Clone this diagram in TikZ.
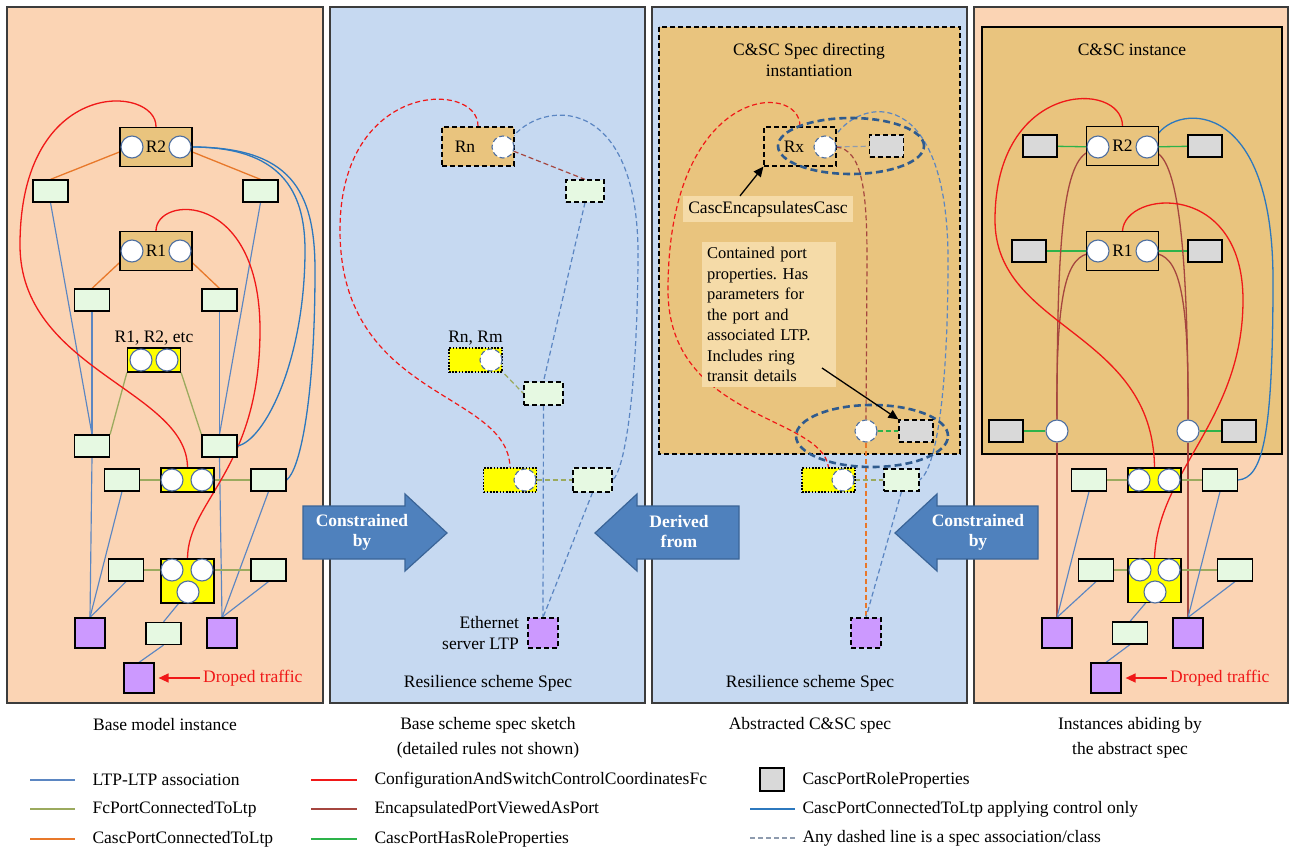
\documentclass[tikz,border=0pt]{standalone}
\usepackage{fontspec}
\setmainfont{Liberation Serif}
\usepackage{tikz}
\usetikzlibrary{shapes.geometric,arrows.meta,positioning,calc,backgrounds}
\frenchspacing
\definecolor{peach}{HTML}{FBD4B4}
\definecolor{skyblue}{HTML}{C6D9F1}
\definecolor{casctan}{HTML}{E9C47E}
\definecolor{ltpgreen}{HTML}{E6F9E2}
\definecolor{ltpviolet}{HTML}{CC99FF}
\definecolor{fcyellow}{HTML}{FFFF00}
\definecolor{rolegray}{HTML}{D9D9D9}
\definecolor{notetan}{HTML}{F5DBA8}
\definecolor{ltpblue}{HTML}{5B86C2}
\definecolor{fcolive}{HTML}{9BAA5E}
\definecolor{cascorange}{HTML}{E8782A}
\definecolor{fcred}{HTML}{F01818}
\definecolor{encbrown}{HTML}{A5463F}
\definecolor{rolegreen}{HTML}{2DB34A}
\definecolor{ctrlblue}{HTML}{2C78BE}
\definecolor{specgray}{HTML}{8E9BAE}
\definecolor{arrowblue}{HTML}{4F81BD}
\definecolor{arrowedge}{HTML}{3A6497}
\definecolor{ringblue}{HTML}{2F5B8E}
\definecolor{framegray}{HTML}{3C3C3C}
\definecolor{portedge}{HTML}{4F6FA0}
\pgfdeclarelayer{panel}
\pgfdeclarelayer{wire}
\pgfsetlayers{panel,wire,main}
\tikzset{
  panel/.style={draw=framegray,line width=1.3pt,fill=#1},
  casc/.style={rectangle,draw=black,fill=casctan,line width=1.2pt,
    minimum width=72pt,minimum height=39pt,inner sep=0pt},
  port/.style={circle,draw=portedge,fill=white,line width=1.1pt,minimum size=22pt,inner sep=0pt},
  ltp/.style={rectangle,draw=black,fill=ltpgreen,line width=1.2pt,
    minimum width=35pt,minimum height=22pt,inner sep=0pt},
  srv/.style={rectangle,draw=black,fill=ltpviolet,line width=1.2pt,minimum size=30pt,inner sep=0pt},
  fc/.style={rectangle,draw=black,fill=fcyellow,line width=1.2pt,
    minimum width=53pt,minimum height=24pt,inner sep=0pt},
  role/.style={rectangle,draw=black,fill=rolegray,line width=1.2pt,
    minimum width=34pt,minimum height=22pt,inner sep=0pt},
  spec/.style={dash pattern=on 5pt off 3pt},
  dotspec/.style={dash pattern=on 1.6pt off 1.6pt},
  wire/.style={line width=1.3pt,#1},
  swire/.style={line width=1.2pt,dash pattern=on 5pt off 3pt,#1},
  ltpline/.style={line width=1.15pt,ltpblue},
  ringell/.style={ellipse,draw=ringblue,line width=2.6pt,dash pattern=on 7pt off 4pt,inner sep=0pt},
  ptr/.style={-{Triangle[length=10pt,width=9pt]},line width=1.3pt,black},
  dropptr/.style={-{Triangle[length=10pt,width=9pt]},line width=1.4pt,fcred},
}
\begin{document}
\begin{tikzpicture}[x=1pt,y=-1pt,
  font=\fontsize{17.5}{21}\selectfont,
  capt/.style={align=center,font=\fontsize{17.5}{25}\selectfont},
  note/.style={fill=notetan,inner sep=5pt,align=left},
  bigarrow/.style={fill=arrowblue,draw=arrowedge,line width=1.2pt},
  arrowtxt/.style={text=white,font=\fontsize{17.5}{20}\selectfont\bfseries,align=center},
]
  \useasboundingbox (0,0) rectangle (1293,853);
  \begin{pgfonlayer}{panel}
    \path[panel=peach] (7,7) rectangle (323,703);
    \path[panel=skyblue] (330,7) rectangle (645,703);
    \path[panel=skyblue] (652,7) rectangle (967,703);
    \path[panel=peach] (974,7) rectangle (1288,703);
    \path[draw=black,dash pattern=on 5pt off 3pt,line width=1.2pt,fill=casctan] (659,27) rectangle (960,454);
    \path[draw=black,line width=1.3pt,fill=casctan] (982,27) rectangle (1282,454);
  \end{pgfonlayer}

  % base model instance
  \node[casc] (r2) at (156,147) {R2};
  \node[port] (r2a) at (132,147) {};
  \node[port] (r2b) at (180,147) {};
  \node[ltp] (l2a) at (50.5,191) {};
  \node[ltp] (l2b) at (260.5,191) {};
  \node[casc] (r1) at (156,251) {R1};
  \node[port] (r1a) at (132,251) {};
  \node[port] (r1b) at (180,251) {};
  \node[ltp] (l1a) at (92,300) {};
  \node[ltp] (l1b) at (219.5,300) {};
  \node[fc] (yt) at (154,360) {};
  \node[port] (yta) at (141,360) {};
  \node[port] (ytb) at (167,360) {};
  \node[above=-1pt of yt] (ytlbl) {R1, R2, etc};
  \node[ltp] (la) at (92,446) {};
  \node[ltp] (lb) at (219.5,446) {};
  \node[fc] (ym) at (187.5,480) {};
  \node[port] (yma) at (172,480) {};
  \node[port] (ymb) at (202,480) {};
  \node[ltp] (lm1) at (122,480) {};
  \node[ltp] (lm2) at (268.5,480) {};
  \node[fc,minimum height=44pt] (yb) at (187.5,581) {};
  \node[port] (yba) at (172,570) {};
  \node[port] (ybb) at (202,570) {};
  \node[port] (ybc) at (188,592) {};
  \node[ltp] (lb1) at (126,570) {};
  \node[ltp] (lb2) at (268.5,570) {};
  \node[srv] (pa) at (90,633) {};
  \node[srv] (pb) at (222,633) {};
  \node[ltp] (ls) at (163.5,633.5) {};
  \node[srv] (pd) at (139,678) {};
  \node[right=45pt of pd,text=fcred] (drop) {Droped traffic};
  \draw[dropptr] (drop.west) -- ([xshift=4pt]pd.east);
  \begin{pgfonlayer}{wire}
    \draw[wire=cascorange] (r2a) -- (l2a.north);
    \draw[wire=cascorange] (r2b) -- (l2b.north);
    \draw[wire=cascorange] (r1a) -- (l1a.north);
    \draw[wire=cascorange] (r1b) -- (l1b.north);
    \draw[ltpline] (l2a.south) -- (la.north);
    \draw[ltpline] (l1a.south) -- (la.north);
    \draw[ltpline] (l2b.south) -- (lb.north);
    \draw[ltpline] (l1b.south) -- (lb.north);
    \draw[ltpline] (la.south) -- (pa.north);
    \draw[ltpline] (lm1.south) -- (pa.north);
    \draw[ltpline] (lb1.south) -- (pa.north);
    \draw[ltpline] (lb.south) -- (pb.north);
    \draw[ltpline] (lm2.south) -- (pb.north);
    \draw[ltpline] (lb2.south) -- (pb.north);
    \draw[ltpline] (ybc) -- (ls.north);
    \draw[ltpline] (ls.south) -- (pd.north);
    \draw[wire=fcolive] (yt.south west) -- (la.north east);
    \draw[wire=fcolive] (yt.south east) -- (lb.north west);
    \draw[wire=fcolive] (lm1.east) -- (yma);
    \draw[wire=fcolive] (ymb) -- (lm2.west);
    \draw[wire=fcolive] (lb1.east) -- (yba);
    \draw[wire=fcolive] (ybb) -- (lb2.west);
    \draw[wire=fcred] (r2.north) .. controls (157,85) and (20,75) .. (20,245)
      .. controls (20,370) and (187,390) .. (ym.north);
    \draw[wire=fcred] (r1.north) .. controls (156,195) and (260,190) .. (260,330)
      .. controls (260,470) and (188,500) .. (yb.north);
    \draw[wire=ctrlblue] (r2b.east) .. controls (280,147) and (305,190) .. (305,250)
      .. controls (305,360) and (265,440) .. (lb.east);
    \draw[wire=ctrlblue] (r2b.east) .. controls (290,147) and (315,190) .. (315,270)
      .. controls (315,400) and (300,470) .. (lm2.east);
  \end{pgfonlayer}

  % base scheme spec sketch
  \node[casc,spec] (rn) at (478,146.5) {};
  \node (rnlbl) at (465,147) {Rn};
  \node[port,spec] (rnp) at (503,147) {};
  \node[ltp,spec,minimum width=38pt] (lsn) at (585,191) {};
  \node[fc,dotspec] (yn1) at (475.5,360) {};
  \node[port,spec] (yn1p) at (491,360) {};
  \node[above=-1pt of yn1] (yn1lbl) {Rn, Rm};
  \node[ltp,spec,minimum width=39pt,minimum height=23pt] (lmn) at (543.5,393.5) {};
  \node[fc,dotspec] (yn2) at (510,480) {};
  \node[port,spec] (yn2p) at (525,480) {};
  \node[ltp,spec,minimum width=39pt,minimum height=24pt] (ln2) at (592.5,480) {};
  \node[srv,spec] (pn) at (543,633) {};
  \node[left=5pt of pn,align=right] (ethlbl) {Ethernet\\server LTP};
  \node (rsa) at (488,683) {Resilience scheme Spec};
  \begin{pgfonlayer}{wire}
    \draw[swire=encbrown] (rnp) -- (lsn.north);
    \draw[swire=ltpblue] (lsn.south) -- (lmn.north);
    \draw[swire=ltpblue] (lmn.south) -- (pn.north);
    \draw[swire=ltpblue] (ln2.south) -- (pn.north);
    \draw[swire=fcolive] (yn1p) -- (lmn.west);
    \draw[swire=fcolive] (yn2p) -- (ln2.west);
    \draw[swire=fcred] (rn.north) .. controls (479,80) and (340,80) .. (340,230)
      .. controls (340,400) and (508,390) .. (yn2.north);
    \draw[swire=ltpblue] (rnp.north east) .. controls (540,100) and (640,90) .. (638,260)
      .. controls (637,390) and (625,470) .. (ln2.east);
  \end{pgfonlayer}

  % abstracted C&SC spec
  \node[align=center] (spectitle) at (809,60) {C\&SC Spec directing\\instantiation};
  \node[casc,spec] (rx) at (800,146.5) {};
  \node (rxlbl) at (794,147) {Rx};
  \node[port,spec] (rxp) at (825,147) {};
  \node[role,spec] (rxr) at (886.5,146) {};
  \node[note] (ccnote) at (768,209) {CascEncapsulatesCasc};
  \node[note,text width=124pt,font=\fontsize{16.5}{20.5}\selectfont] (cpnote) at (769,314.5)
    {Contained port\\properties. Has\\parameters for\\the port and\\associated LTP.\\Includes ring\\transit details};
  \node[port,spec] (cxp) at (866,431) {};
  \node[role,spec] (cxr) at (916,431) {};
  \node[fc,dotspec] (yx) at (828.5,480) {};
  \node[port,spec] (yxp) at (843,480) {};
  \node[ltp,spec] (lx) at (901.5,480) {};
  \node[srv,spec] (px) at (866,633) {};
  \node (rsb) at (810,683) {Resilience scheme Spec};
  \begin{pgfonlayer}{wire}
    \draw[swire=specgray] (rxp) -- (rxr);
    \draw[swire=rolegreen] (cxp) -- (cxr);
    \draw[swire=cascorange] (cxp.south) -- (px.north);
    \draw[swire=fcolive] (yxp) -- (lx.west);
    \draw[swire=ltpblue] (lx.south) -- (px.north);
    \draw[swire=encbrown] (rxp.east) .. controls (862,150) and (867,190) .. (867,260) -- (cxp.north);
    \draw[swire=fcred] (rx.north) .. controls (800,80) and (668,85) .. (668,290)
      .. controls (668,420) and (822,415) .. (yx.north);
    \draw[swire=ltpblue] (rxp.north east) .. controls (860,95) and (948,85) .. (948,260)
      .. controls (948,400) and (935,470) .. (lx.east);
  \end{pgfonlayer}
  \node[ringell,minimum width=146pt,minimum height=56pt] (ringa) at (851,146) {};
  \node[ringell,minimum width=152pt,minimum height=62pt] (ringb) at (872,436) {};
  \coordinate (cpfrom) at (822,368);
  \draw[ptr] ([xshift=-28pt]ccnote.north) -- (rx.south west);
  \draw[ptr] (cpfrom) -- (cxr.north west);

  % instances abiding by the abstract spec
  \node (insttitle) at (1132,50) {C\&SC instance};
  \node[casc] (r2i) at (1122.5,146) {R2};
  \node[port] (r2ia) at (1098,147) {};
  \node[port] (r2ib) at (1147,147) {};
  \node[role] (g2a) at (1040,146) {};
  \node[role] (g2b) at (1205,146) {};
  \node[casc] (r1i) at (1122.5,251) {R1};
  \node[port] (r1ia) at (1098,251) {};
  \node[port] (r1ib) at (1147,251) {};
  \node[role] (g1a) at (1029,251) {};
  \node[role] (g1b) at (1205,251) {};
  \node[port] (cl) at (1057,431) {};
  \node[port] (cr) at (1188,431) {};
  \node[role] (gla) at (1006,431) {};
  \node[role] (glb) at (1239,431) {};
  \node[fc] (yi1) at (1154.5,480) {};
  \node[port] (yi1a) at (1139,480) {};
  \node[port] (yi1b) at (1169,480) {};
  \node[ltp] (ll1) at (1089,480) {};
  \node[ltp] (lr1) at (1220,480) {};
  \node[fc,minimum height=44pt] (yi2) at (1154.5,580.5) {};
  \node[port] (yi2a) at (1140,570) {};
  \node[port] (yi2b) at (1169,570) {};
  \node[port] (yi2c) at (1155,592) {};
  \node[ltp] (ll2) at (1096,570) {};
  \node[ltp] (lr2) at (1235,570) {};
  \node[srv] (pl) at (1057,633) {};
  \node[srv] (pr) at (1188,633) {};
  \node[ltp] (ls4) at (1130,633) {};
  \node[srv] (pd4) at (1106,678) {};
  \node[right=45pt of pd4,text=fcred] (drop4) {Droped traffic};
  \draw[dropptr] (drop4.west) -- ([xshift=4pt]pd4.east);
  \begin{pgfonlayer}{wire}
    \draw[wire=rolegreen] (g2a) -- (r2ia);
    \draw[wire=rolegreen] (r2ib) -- (g2b);
    \draw[wire=rolegreen] (g1a) -- (r1ia);
    \draw[wire=rolegreen] (r1ib) -- (g1b);
    \draw[wire=rolegreen] (gla) -- (cl);
    \draw[wire=rolegreen] (cr) -- (glb);
    \draw[wire=encbrown] (r2ia) .. controls (1062,165) and (1057,250) .. (cl);
    \draw[wire=encbrown] (r1ia) .. controls (1065,260) and (1056,300) .. (cl);
    \draw[wire=encbrown] (cl) -- (pl.north);
    \draw[wire=encbrown] (r2ib) .. controls (1178,165) and (1188,250) .. (cr);
    \draw[wire=encbrown] (r1ib) .. controls (1180,260) and (1189,300) .. (cr);
    \draw[wire=encbrown] (cr) -- (pr.north);
    \draw[wire=fcolive] (ll1.east) -- (yi1a);
    \draw[wire=fcolive] (yi1b) -- (lr1.west);
    \draw[wire=fcolive] (ll2.east) -- (yi2a);
    \draw[wire=fcolive] (yi2b) -- (lr2.west);
    \draw[ltpline] (ll1.south) -- (pl.north);
    \draw[ltpline] (ll2.south) -- (pl.north);
    \draw[ltpline] (lr1.south) -- (pr.north);
    \draw[ltpline] (lr2.south) -- (pr.north);
    \draw[ltpline] (yi2c) -- (ls4.north);
    \draw[ltpline] (ls4.south) -- (pd4.north);
    \draw[wire=fcred] (r2i.north) .. controls (1122,80) and (995,80) .. (995,220)
      .. controls (995,330) and (1153,330) .. (yi1.north);
    \draw[wire=fcred] (r1i.north) .. controls (1125,190) and (1243,180) .. (1243,300)
      .. controls (1243,420) and (1158,470) .. (yi2.north);
    \draw[wire=ctrlblue] (r2ib.north east) .. controls (1170,105) and (1273,90) .. (1273,280)
      .. controls (1273,440) and (1262,478) .. (lr1.east);
  \end{pgfonlayer}

  % block arrows between panels
  \draw[bigarrow] (303,506) -- (405,506) -- (405,494) -- (447,533) -- (405,571) -- (405,559) -- (303,559) -- cycle;
  \node[arrowtxt] (cby1) at (362,532) {Constrained\\by};
  \draw[bigarrow] (739,506) -- (637,506) -- (637,494) -- (595,533) -- (637,571) -- (637,559) -- (739,559) -- cycle;
  \node[arrowtxt] (dfrom) at (679,532) {Derived\\from};
  \draw[bigarrow] (1038,506) -- (937,506) -- (937,494) -- (895,533) -- (937,571) -- (937,559) -- (1038,559) -- cycle;
  \node[arrowtxt] (cby2) at (978,532) {Constrained\\by};

  % captions
  \node (cap1) at (165,725) {Base model instance};
  \node[capt] (cap2) at (488,738) {Base scheme spec sketch\\(detailed rules not shown)};
  \node (cap3) at (810,725) {Abstracted C\&SC spec};
  \node[capt] (cap4) at (1130,738) {Instances abiding by\\the abstract spec};

  % legend
  \draw[ltpline] (30,780) -- (75,780);
  \node[anchor=west] (lg1) at (89,780) {LTP-LTP association};
  \draw[wire=fcolive] (30,809) -- (75,809);
  \node[anchor=west] (lg2) at (89,809) {FcPortConnectedToLtp};
  \draw[wire=cascorange] (30,839) -- (75,839);
  \node[anchor=west] (lg3) at (89,839) {CascPortConnectedToLtp};
  \draw[wire=fcred] (311,780) -- (357,780);
  \node[anchor=west] (lg4) at (371,780) {ConfigurationAndSwitchControlCoordinatesFc};
  \draw[wire=encbrown] (311,809) -- (357,809);
  \node[anchor=west] (lg5) at (371,809) {EncapsulatedPortViewedAsPort};
  \draw[wire=rolegreen] (311,839) -- (357,839);
  \node[anchor=west] (lg6) at (371,839) {CascPortHasRoleProperties};
  \node[role,minimum width=24pt,minimum height=23pt] (lgbox) at (772,779.5) {};
  \node[anchor=west] (lg7) at (799,780) {CascPortRoleProperties};
  \draw[wire=ctrlblue] (750,809) -- (795,809);
  \node[anchor=west] (lg8) at (799,809) {CascPortConnectedToLtp applying control only};
  \draw[swire=specgray] (750,838) -- (795,838);
  \node[anchor=west] (lg9) at (799,838) {Any dashed line is a spec association/class};
\end{tikzpicture}
\end{document}
